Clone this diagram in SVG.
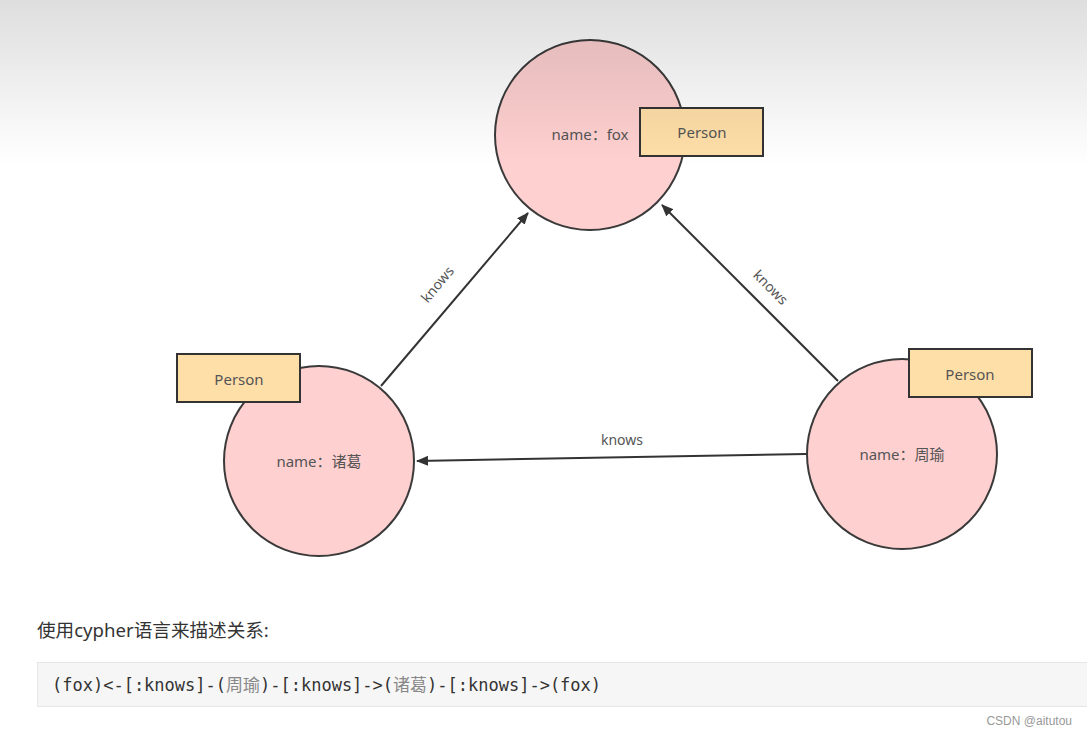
<svg xmlns="http://www.w3.org/2000/svg" width="1087" height="736" viewBox="0 0 1087 736">
<style>
.node{fill:#ffd0d0;stroke:#3a3a3a;stroke-width:2}
.label{fill:#ffdfa8;stroke:#333;stroke-width:2}
.lt{font-family:"Noto Sans","Noto Sans CJK SC",sans-serif;font-size:15px;fill:#555;text-anchor:middle;dominant-baseline:central}
.pt{font-family:"Noto Sans",sans-serif;font-size:15px;fill:#555;text-anchor:middle;dominant-baseline:central}
.edge{stroke:#333;stroke-width:2;fill:none;marker-end:url(#arr)}
.et{font-family:"Noto Sans",sans-serif;font-size:14px;fill:#555;text-anchor:middle;dominant-baseline:central}
</style>
<defs>
<marker id="arr" viewBox="0 0 12 10" refX="11" refY="5" markerWidth="12" markerHeight="10" markerUnits="userSpaceOnUse" orient="auto">
<path d="M0,0 L12,5 L0,10 z" fill="#333"/>
</marker>
<linearGradient id="shade" x1="0" y1="0" x2="0" y2="1">
<stop offset="0" stop-color="#000" stop-opacity="0.13"/>
<stop offset="1" stop-color="#000" stop-opacity="0"/>
</linearGradient>
</defs>
<rect width="1087" height="736" fill="#fff"/>
<g id="connectors">
<line class="edge" x1="381" y1="386" x2="528" y2="213"/>
<line class="edge" x1="838" y1="381" x2="662" y2="205"/>
<line class="edge" x1="806" y1="454" x2="417" y2="461"/>
<text class="et" transform="translate(437,284) rotate(-50)">knows</text>
<text class="et" transform="translate(771,287) rotate(45)">knows</text>
<text class="et" x="622" y="439">knows</text>
</g>
<g id="node-fox">
<circle class="node" cx="590" cy="135" r="95"/>
<text class="lt" x="590" y="134">name：fox</text>
<rect class="label" x="640" y="108" width="123" height="48"/>
<text class="pt" x="702" y="132">Person</text>
</g>
<g id="node-zhuge">
<circle class="node" cx="319" cy="461" r="95"/>
<text class="lt" x="319" y="461">name：诸葛</text>
<rect class="label" x="177" y="354" width="123" height="48"/>
<text class="pt" x="239" y="379">Person</text>
</g>
<g id="node-zhouyu">
<circle class="node" cx="902" cy="454" r="95"/>
<text class="lt" x="902" y="454">name：周瑜</text>
<rect class="label" x="909" y="349" width="123" height="48"/>
<text class="pt" x="970" y="374">Person</text>
</g>
<rect x="0" y="0" width="1087" height="165" fill="url(#shade)"/>
<text x="37" y="637" font-family="Noto Sans,Noto Sans CJK SC,sans-serif" font-size="18.6" fill="#333">使用cypher语言来描述关系:</text>
<rect x="37.5" y="662.5" width="1060" height="44" fill="#f6f6f6" stroke="#e6e6e6"/>
<text x="52" y="691" font-family="DejaVu Sans Mono,monospace" font-size="17" fill="#333">(fox)&lt;-[:knows]-(<tspan font-family="Noto Sans CJK SC,sans-serif" fill="#888">周瑜</tspan>)-[:knows]-&gt;(<tspan font-family="Noto Sans CJK SC,sans-serif" fill="#888">诸葛</tspan>)-[:knows]-&gt;(fox)</text>
<text x="1072" y="725" text-anchor="end" font-family="Liberation Sans,sans-serif" font-size="12" fill="#999">CSDN @aitutou</text>
</svg>
